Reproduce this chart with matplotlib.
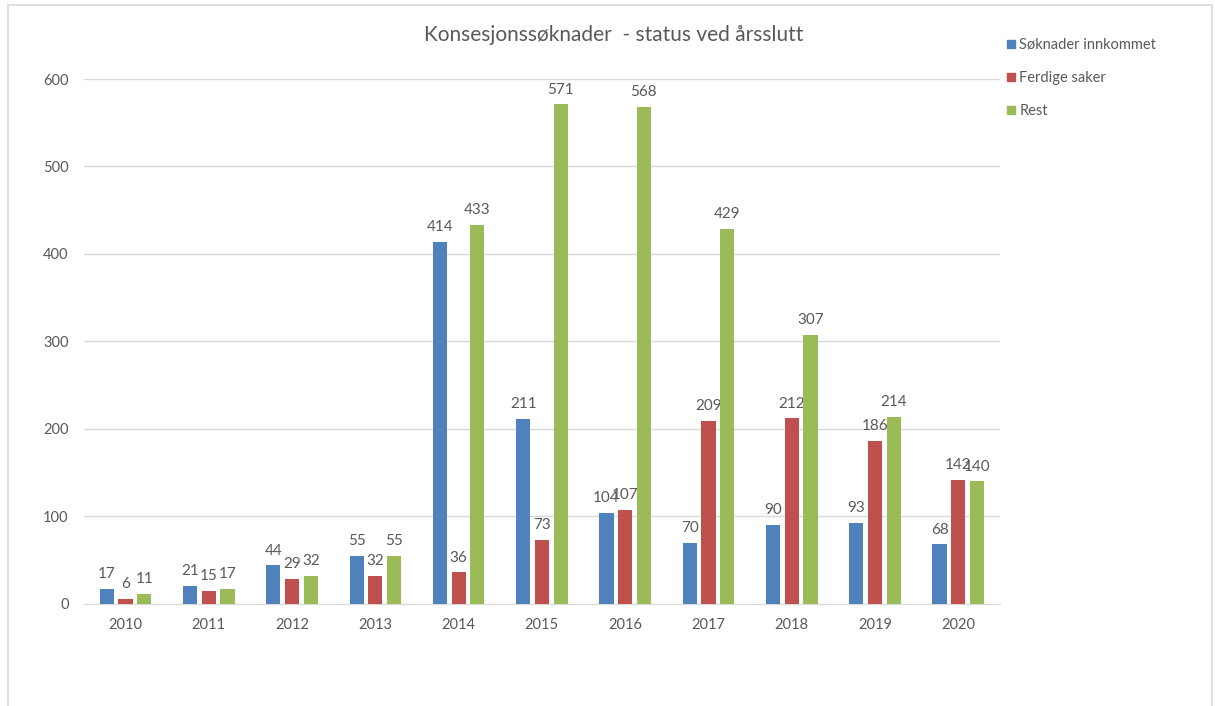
import numpy as np
import matplotlib.pyplot as plt
from matplotlib.lines import Line2D

plt.rcParams['font.family'] = ['Lato', 'DejaVu Sans']

years = ['2010', '2011', '2012', '2013', '2014', '2015', '2016', '2017', '2018', '2019', '2020']
innkommet = [17, 21, 44, 55, 414, 211, 104, 70, 90, 93, 68]
ferdige = [6, 15, 29, 32, 36, 73, 107, 209, 212, 186, 142]
rest = [11, 17, 32, 55, 433, 571, 568, 429, 307, 214, 140]

series = [('Søknader innkommet', innkommet, '#4f81bd'),
          ('Ferdige saker', ferdige, '#c0504d'),
          ('Rest', rest, '#9bbb59')]

TXT = '#595959'

fig = plt.figure(figsize=(12.15, 7.06), dpi=100)
ax = fig.add_axes([0.069, 0.1445, 0.754, 0.7436])

x = np.arange(len(years))
w = 0.17
off = 0.225
for i, (name, vals, col) in enumerate(series):
    pos = x + (i - 1) * off
    ax.bar(pos, vals, width=w, color=col, zorder=3, label=name)
    for p, v in zip(pos, vals):
        ax.text(p, v + 9, str(v), ha='center', va='bottom', fontsize=11, color=TXT)

ax.set_xlim(-0.5, len(years) - 0.5)
ax.set_ylim(0, 600)
ax.set_yticks(range(0, 601, 100))
ax.set_xticks(x)
ax.set_xticklabels(years)
ax.grid(axis='y', color='#d9d9d9', linewidth=1, zorder=0)
for s in ['top', 'right', 'left']:
    ax.spines[s].set_visible(False)
ax.spines['bottom'].set_color('#d9d9d9')
ax.tick_params(axis='both', length=0, labelsize=10.5, colors=TXT)
ax.tick_params(axis='x', pad=10)
ax.tick_params(axis='y', pad=11)

fig.text(0.505, 0.95, 'Konsesjonssøknader  - status ved årsslutt', ha='center', va='center',
         fontsize=15, color=TXT)

handles = [Line2D([], [], marker='s', linestyle='none', color=c, markersize=6) for _, _, c in series]
fig.legend(handles, [s[0] for s in series], loc='upper left', bbox_to_anchor=(0.815, 0.965),
           frameon=False, fontsize=10.5, labelcolor=TXT, handletextpad=0.1, labelspacing=1.3,
           handlelength=1.0)

# thin frame round the picture (top, left, right only)
fig.add_artist(Line2D([8 / 1215, 8 / 1215, 1212 / 1215, 1212 / 1215],
                      [0, 1 - 5 / 706, 1 - 5 / 706, 0], transform=fig.transFigure,
                      color='#d9d9d9', linewidth=1.2))

fig.savefig('out.png', dpi=100)
